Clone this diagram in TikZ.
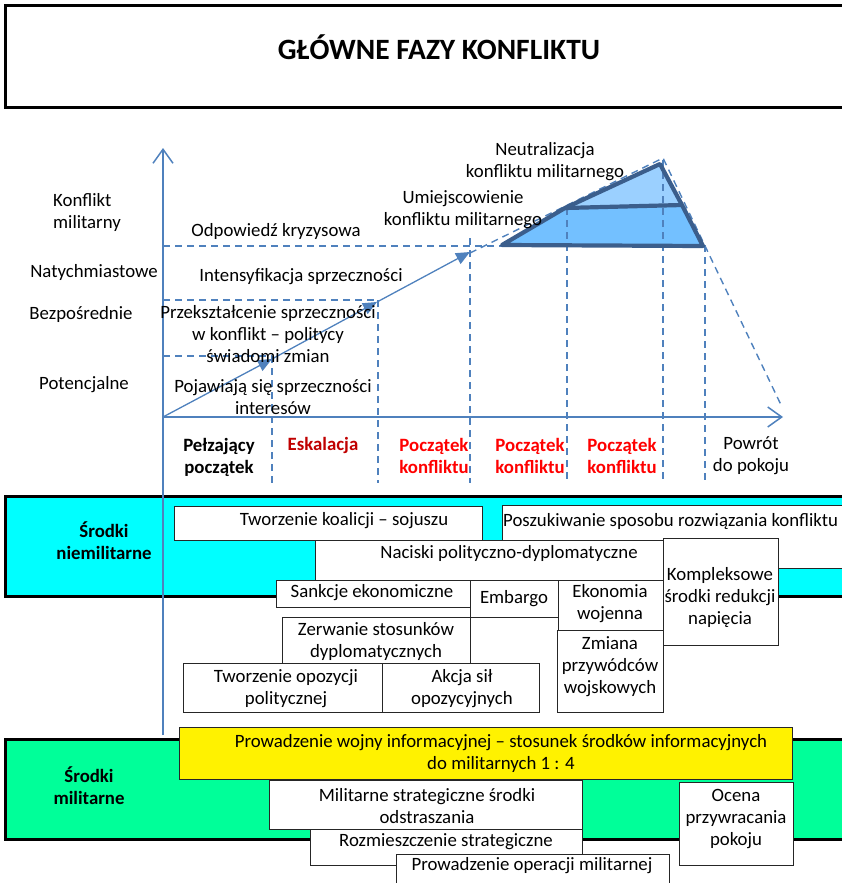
\documentclass[tikz,border=0pt]{standalone}
\usepackage{fontspec}
\setmainfont{Carlito}
\usetikzlibrary{arrows.meta}
\definecolor{chartblue}{RGB}{79,129,189}
\definecolor{peakedge}{RGB}{59,94,140}
\definecolor{peaktop}{RGB}{155,208,255}
\definecolor{peakbase}{RGB}{115,192,255}
\definecolor{bandcyan}{RGB}{0,255,255}
\definecolor{bandgreen}{RGB}{0,255,153}
\definecolor{phasered}{RGB}{255,0,0}
\definecolor{escred}{RGB}{192,0,0}

\tikzset{
  lbl/.style={align=center, inner sep=0pt, font=\fontsize{18.8}{22}\selectfont},
  boldlbl/.style={lbl, font=\bfseries\fontsize{18.8}{22}\selectfont},
  guide/.style={chartblue, line width=1.4pt, dash pattern=on 7pt off 5pt},
  axis/.style={chartblue, line width=1.5pt, -{Straight Barb[length=14pt,width=20pt]}},
  rise/.style={chartblue, line width=1.3pt, -{Triangle[length=14pt,width=12pt]}},
  band/.style={draw=black, line width=3pt},
  card/.style={draw=black!85, fill=white, line width=0.9pt},
}

\begin{document}
\begin{tikzpicture}[x=1pt,y=-1pt]
        \useasboundingbox (0,0) rectangle (842,883);

        \draw[band] (5.5,6) rectangle (870,107.5);
        \node[font=\bfseries\fontsize{29.5}{34}\selectfont] (title) at (439,47) {GŁÓWNE FAZY KONFLIKTU};

        % szczyt konfliktu
        \fill[peakbase] (502,245) -- (565,208) -- (682,205) -- (703,246) -- cycle;
        \fill[peaktop] (565,208) -- (660,164) -- (682,205) -- cycle;

        \draw[guide] (163,356) -- (272,356);
        \draw[guide] (163,300) -- (378,300);
        \draw[guide] (163,246) -- (502,246);
        \draw[guide] (272,356) -- (272,483);
        \draw[guide] (378,300) -- (378,483);
        \draw[guide] (470,238) -- (470,483);
        \draw[guide] (567,208) -- (567,483);
        \draw[guide] (663,160) -- (663,483);
        \draw[guide] (705,245) -- (705,483);
        \draw[guide] (470,253) -- (663,158) -- (782,407);

        \draw[peakedge, line width=4.2pt, line join=round] (502,245) -- (565,208) -- (660,164) -- (682,205) -- (703,246) -- cycle;
        \draw[peakedge, line width=4.2pt] (565,208) -- (682,205);

        % pasy srodkow
        \draw[band, fill=bandcyan] (5,496) rectangle (870,596);
        \draw[band, fill=bandgreen] (5,739) rectangle (870,839);

        \coordinate (O) at (163,417);
        \draw[axis] (163,735) -- (163,148);
        \draw[axis] (O) -- (783,417);
        \draw[rise] (O) -- (272,359);
        \draw[rise] (272,359) -- (377,302);
        \draw[rise] (377,302) -- (470,252);

        \node[lbl, align=left, anchor=west] (konflikt) at (53,212) {Konflikt\\militarny};
        \node[lbl] (natych) at (94,272) {Natychmiastowe};
        \node[lbl] (bezpo) at (81,314) {Bezpośrednie};
        \node[lbl] (poten) at (84,385) {Potencjalne};

        \node[lbl] (odpow) at (276,231) {Odpowiedź kryzysowa};
        \node[lbl] (inten) at (301,277) {Intensyfikacja sprzeczności};
        \node[lbl] (przek) at (268,334) {Przekształcenie sprzeczności\\w konflikt – politycy\\świadomi zmian};
        \node[lbl] (pojaw) at (273,397) {Pojawiają się sprzeczności\\interesów};
        \node[lbl] (umiej) at (463,210) {Umiejscowienie\\konfliktu militarnego};
        \node[lbl] (neutr) at (545,162) {Neutralizacja\\konfliktu militarnego};

        \node[boldlbl] (pelz) at (219,457) {Pełzający\\początek};
        \node[boldlbl, text=escred] (eskal) at (323,445) {Eskalacja};
        \node[boldlbl, text=phasered] (pocz1) at (434,456) {Początek\\konfliktu};
        \node[boldlbl, text=phasered] (pocz2) at (530,456) {Początek\\konfliktu};
        \node[boldlbl, text=phasered] (pocz3) at (622,456) {Początek\\konfliktu};
        \node[lbl] (powrot) at (751,456) {Powrót\\do pokoju};

        % srodki niemilitarne
        \node[boldlbl] (niemil) at (104,541) {Środki\\niemilitarne};

        \draw[card] (174,506) rectangle (482,540);
        \node[lbl] (koalicja) at (344,521) {Tworzenie koalicji – sojuszu};
        \draw[card] (502,505) rectangle (870,568);
        \node[lbl, anchor=west] (poszuk) at (503,521) {Poszukiwanie sposobu rozwiązania konfliktu};
        \draw[card] (315,540) rectangle (663,580);
        \node[lbl] (naciski) at (509,553) {Naciski polityczno-dyplomatyczne};
        \draw[card] (663,538) rectangle (778,645);
        \node[lbl] (kompleks) at (720,597) {Kompleksowe\\środki redukcji\\napięcia};
        \draw[card] (276,580) rectangle (470,607);
        \node[lbl] (sankcje) at (372,593) {Sankcje ekonomiczne};
        \draw[card] (470,580) rectangle (558,617);
        \node[lbl] (embargo) at (514,599) {Embargo};
        \draw[card] (558,580) rectangle (663,630);
        \node[lbl] (ekonomia) at (610,604) {Ekonomia\\wojenna};
        \draw[card] (282,617) rectangle (470,663);
        \node[lbl] (zerwanie) at (376,641) {Zerwanie stosunków\\dyplomatycznych};
        \draw[card] (557,630) rectangle (663,712);
        \node[lbl] (zmiana) at (610,667) {Zmiana\\przywódców\\wojskowych};
        \draw[card] (183,663) rectangle (382,712);
        \node[lbl] (opozycja) at (286,689) {Tworzenie opozycji\\politycznej};
        \draw[card] (382,663) rectangle (539,712);
        \node[lbl] (akcja) at (462,689) {Akcja sił\\opozycyjnych};

        % srodki militarne
        \node[boldlbl] (milit) at (89,786) {Środki\\militarne};

        \draw[card, fill=yellow] (179,727) rectangle (792,779);
        \node[lbl] (infowar) at (501,753) {Prowadzenie wojny informacyjnej – stosunek środków informacyjnych\\do militarnych 1 : 4};
        \draw[card] (269,780) rectangle (582,829);
        \node[lbl] (odstr) at (427,806) {Militarne strategiczne środki\\odstraszania};
        \draw[card] (310,829) rectangle (582,865);
        \node[lbl] (rozmiesz) at (446,842) {Rozmieszczenie strategiczne};
        \draw[card] (396,854) rectangle (669,900);
        \node[lbl] (operacja) at (532,866) {Prowadzenie operacji militarnej};
        \draw[card] (679,782) rectangle (793,865);
        \node[lbl] (ocena) at (736,819) {Ocena\\przywracania\\pokoju};
      \end{tikzpicture}
\end{document}
